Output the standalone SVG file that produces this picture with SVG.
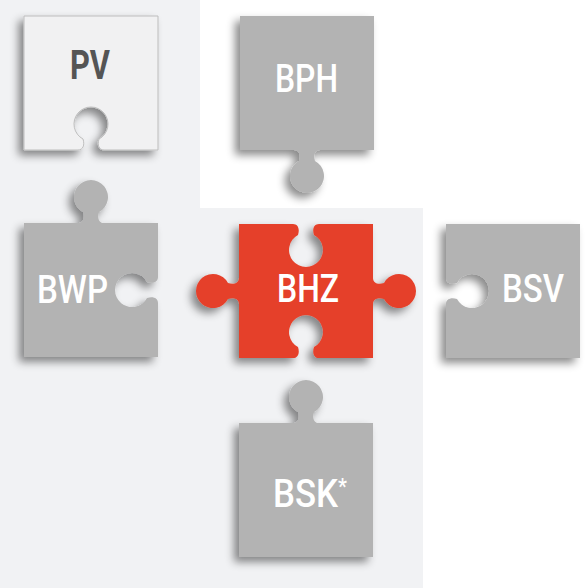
<svg xmlns="http://www.w3.org/2000/svg" width="585" height="588" viewBox="0 0 585 588">
<style>
.piece{filter:url(#sh)}
.grey{fill:#b3b3b3}
.red{fill:#e5402a}
.light{fill:#f1f1f2;stroke:#bdbdbd;stroke-width:1}
.lbl{font-family:Roboto,"Liberation Sans",sans-serif;font-size:38px;font-weight:500;fill:#ffffff;text-anchor:middle}
.dark{fill:#555555;font-weight:700;font-size:41px}
</style>
<defs>
<filter id="sh" x="-20%" y="-20%" width="140%" height="140%">
<feDropShadow dx="-5" dy="5" stdDeviation="4" flood-color="#000" flood-opacity="0.45"/>
</filter>
</defs>
<rect x="0" y="0" width="585" height="588" fill="#ffffff"/>
<polygon points="0,0 200,0 200,208 423,208 423,588 0,588" fill="#f1f2f4"/>
<g id="connectors"/>
<g id="PV" transform="translate(24,16)">
<path class="piece light" d="M0 0 L134 0 L134 134 L80 134 C75 134 73 129 75 123 A17 17 0 1 0 59 123 C61 129 59 134 54 134 L0 134 Z"/>
<text class="lbl dark" x="66" y="63" textLength="40" lengthAdjust="spacingAndGlyphs">PV</text>
</g>
<g id="BPH" transform="translate(240,16)">
<path class="piece grey" d="M0 0 L134 0 L134 134 L80 134 C75 134 73 139 75 145 A17 17 0 1 1 59 145 C61 139 59 134 54 134 L0 134 Z"/>
<text class="lbl" x="66.5" y="76" textLength="63" lengthAdjust="spacingAndGlyphs">BPH</text>
</g>
<g id="BWP" transform="translate(24,223)">
<path class="piece grey" d="M0 0 L54 0 C59 0 61 -5 59 -11 A17 17 0 1 1 75 -11 C73 -5 75 0 80 0 L134 0 L134 54 C134 59 129 61 123 59 A17 17 0 1 0 123 75 C129 73 134 75 134 80 L134 134 L0 134 Z"/>
<text class="lbl" x="48.5" y="80" textLength="71" lengthAdjust="spacingAndGlyphs">BWP</text>
</g>
<g id="BHZ" transform="translate(239,224)">
<path class="piece red" d="M0 0 L54 0 C59 0 61 5 59 11 A17 17 0 1 0 75 11 C73 5 75 0 80 0 L134 0 L134 54 C134 59 139 61 145 59 A17 17 0 1 1 145 75 C139 73 134 75 134 80 L134 134 L80 134 C75 134 73 129 75 123 A17 17 0 1 0 59 123 C61 129 59 134 54 134 L0 134 L0 80 C0 75 -5 73 -11 75 A17 17 0 1 1 -11 59 C-5 61 0 59 0 54 Z"/>
<text class="lbl" x="69" y="78" textLength="62" lengthAdjust="spacingAndGlyphs">BHZ</text>
</g>
<g id="BSV" transform="translate(446,224)">
<path class="piece grey" d="M0 0 L134 0 L134 134 L0 134 L0 80 C0 75 5 73 11 75 A17 17 0 1 0 11 59 C5 61 0 59 0 54 Z"/>
<text class="lbl" x="87" y="78" textLength="62" lengthAdjust="spacingAndGlyphs">BSV</text>
</g>
<g id="BSK" transform="translate(239,423)">
<path class="piece grey" d="M0 0 L54 0 C59 0 61 -5 59 -11 A17 17 0 1 1 75 -11 C73 -5 75 0 80 0 L134 0 L134 134 L0 134 Z"/>
<text class="lbl" x="71" y="84" textLength="74" lengthAdjust="spacingAndGlyphs">BSK<tspan style="font-size:22px" dy="-13">*</tspan></text>
</g>
</svg>
